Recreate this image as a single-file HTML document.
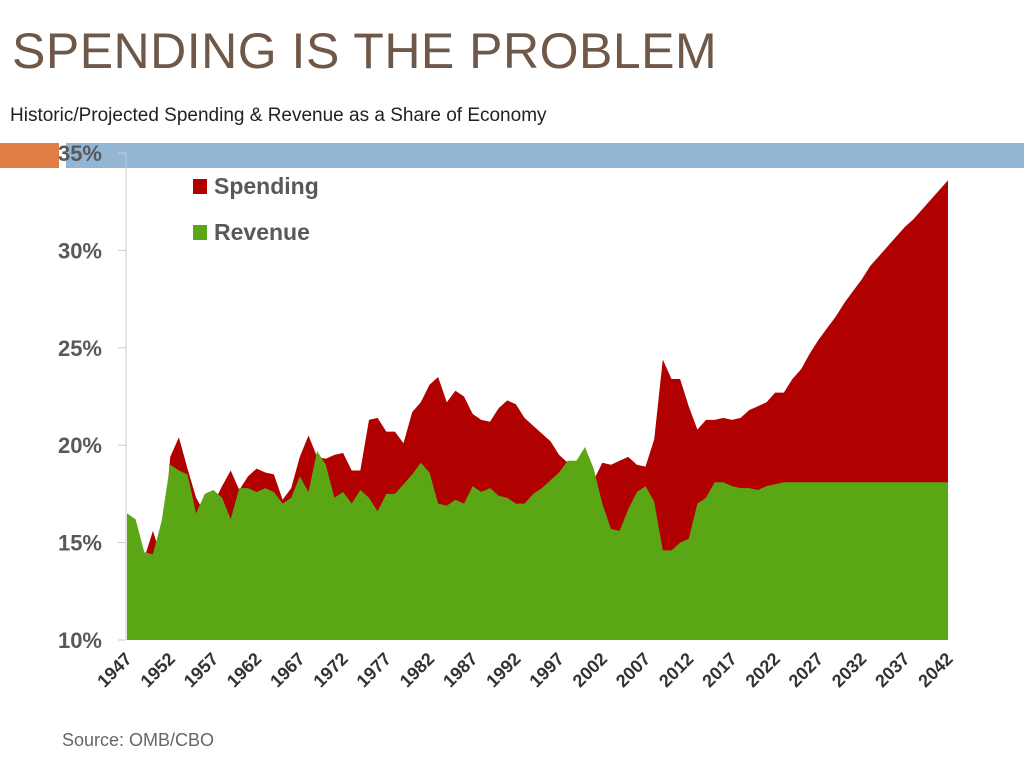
<!DOCTYPE html>
<html><head><meta charset="utf-8"><style>
body{margin:0;width:1024px;height:768px;background:#fff;overflow:hidden;font-family:"Liberation Sans",sans-serif;position:relative}
#title{position:absolute;left:12px;top:22px;font-size:50px;color:#6f5848;letter-spacing:0.5px}
#sub{position:absolute;left:10px;top:105px;font-size:19px;color:#222}
#src{position:absolute;left:62px;top:730px;font-size:18px;color:#666}
</style></head><body>
<div id="title">SPENDING IS THE PROBLEM</div>
<div id="sub">Historic/Projected Spending &amp; Revenue as a Share of Economy</div>
<svg id="chart" width="1024" height="768" style="position:absolute;left:0;top:0">
<rect x="0" y="143" width="59" height="25" fill="#e07f45"/>
<rect x="66" y="143" width="958" height="25" fill="#93b6d4"/>
<g id="plot"></g>
</svg>
<div id="src">Source: OMB/CBO</div>
<script>
const years=[];for(let y=1947;y<=2042;y++)years.push(y);
const revenue=[16.5,16.2,14.5,14.4,16.1,19.0,18.7,18.5,16.5,17.5,17.7,17.3,16.2,17.8,17.8,17.6,17.8,17.6,17.0,17.3,18.4,17.6,19.7,19.0,17.3,17.6,17.0,17.7,17.3,16.6,17.5,17.5,18.0,18.5,19.1,18.6,17.0,16.9,17.2,17.0,17.9,17.6,17.8,17.4,17.3,17.0,17.0,17.5,17.8,18.2,18.6,19.2,19.2,19.9,18.8,17.0,15.7,15.6,16.7,17.6,17.9,17.1,14.6,14.6,15.0,15.2,17.0,17.3,18.1,18.1,17.9,17.8,17.8,17.7,17.9,18.0,18.1,18.1,18.1,18.1,18.1,18.1,18.1,18.1,18.1,18.1,18.1,18.1,18.1,18.1,18.1,18.1,18.1,18.1,18.1,18.1];
const spending=[14.4,11.3,14.2,15.6,14.2,19.4,20.4,18.8,17.3,16.5,17.0,17.9,18.7,17.7,18.4,18.8,18.6,18.5,17.2,17.8,19.4,20.5,19.4,19.3,19.5,19.6,18.7,18.7,21.3,21.4,20.7,20.7,20.1,21.7,22.2,23.1,23.5,22.2,22.8,22.5,21.6,21.3,21.2,21.9,22.3,22.1,21.4,21.0,20.6,20.2,19.5,19.1,18.6,18.2,18.2,19.1,19.0,19.2,19.4,19.0,18.9,20.3,24.4,23.4,23.4,22.0,20.8,21.3,21.3,21.4,21.3,21.4,21.8,22.0,22.2,22.7,22.7,23.4,23.9,24.7,25.4,26.0,26.6,27.3,27.9,28.5,29.2,29.7,30.2,30.7,31.2,31.6,32.1,32.6,33.1,33.6];
const yTicks=[10,15,20,25,30,35];
const NS='http://www.w3.org/2000/svg';
const x0=127,x1=948,yb=640,yt=153;
const xs=y=>x0+(y-1947)*(x1-x0)/(2042-1947);
const ys=v=>yb-(v-10)*(yb-yt)/25;
const g=document.getElementById('plot');
function mk(t,a){const e=document.createElementNS(NS,t);for(const k in a)e.setAttribute(k,a[k]);g.appendChild(e);return e;}
function area(vals,col,name){let d='M'+xs(years[0])+','+yb;years.forEach((y,i)=>d+='L'+xs(y).toFixed(1)+','+ys(vals[i]).toFixed(1));d+='L'+xs(years[years.length-1])+','+yb+'Z';const p=mk('path',{d:d,fill:col});}
area(spending,'#b00000','spending-area');
area(revenue,'#5ba614','revenue-area');
const ax=mk('line',{x1:x0-1,y1:yt,x2:x0-1,y2:yb,stroke:'#ccc','stroke-width':1});


yTicks.forEach(v=>{
 const tk=mk('line',{x1:x0-9,y1:ys(v),x2:x0-1,y2:ys(v),stroke:'#ccc'});
 
 
 const t=mk('text',{x:102,y:ys(v)+8,'text-anchor':'end','font-size':22,'font-weight':'bold',fill:'#595959','font-family':'Liberation Sans, sans-serif'});
 t.textContent=v+'%';
 
 
});
years.filter(y=>(y-1947)%5===0).forEach(y=>{
 const x=xs(y)+6,yy=660;
 const t=mk('text',{x:x,y:yy,'text-anchor':'end','font-size':18,'font-weight':'bold',fill:'#333','font-family':'Liberation Sans, sans-serif',transform:'rotate(-45 '+x+' '+yy+')'});
 t.textContent=y;
 
 
});
[['Spending','#b00000',179],['Revenue','#5ba614',225]].forEach(l=>{
 const r=mk('rect',{x:193,y:l[2],width:14,height:15,fill:l[1]});
 
 
 const t=mk('text',{x:214,y:l[2]+15,'font-size':23,'font-weight':'bold',fill:'#595959','font-family':'Liberation Sans, sans-serif'});
 t.textContent=l[0];
 
 
});
</script>
</body></html>
